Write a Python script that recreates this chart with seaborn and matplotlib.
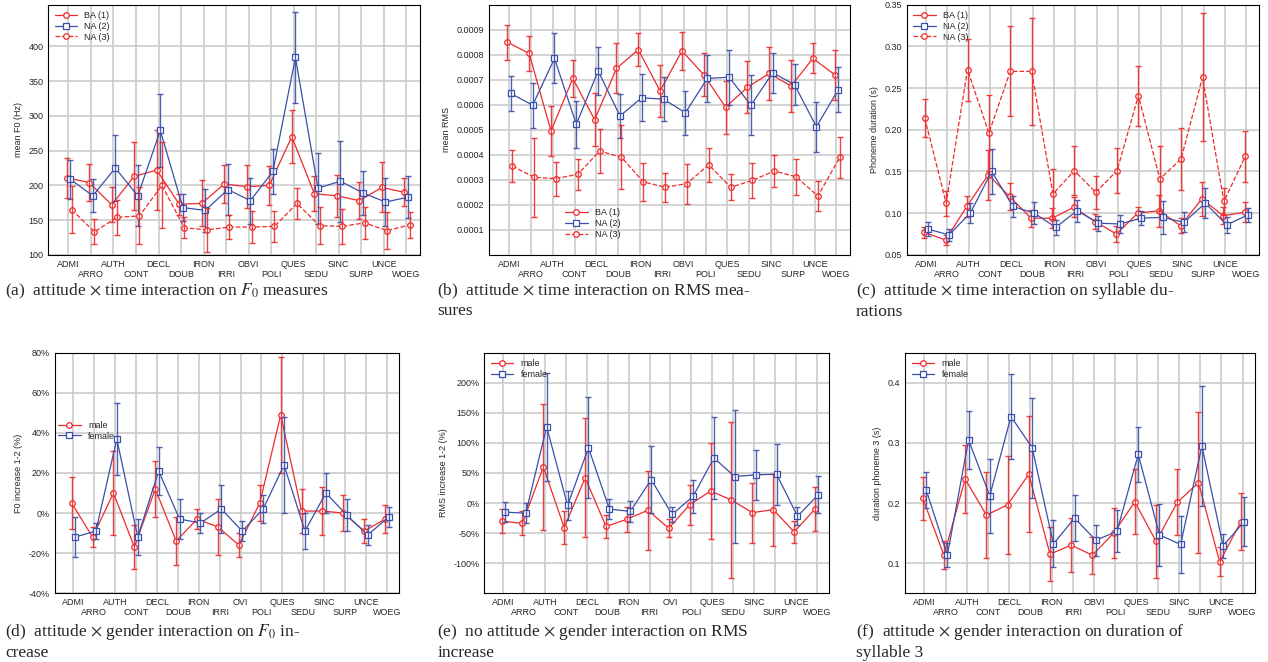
import numpy as np
import pandas as pd
import matplotlib
matplotlib.use('Agg')
import matplotlib.pyplot as plt
import matplotlib.ticker as mtick
import seaborn as sns

CATS = ['ADMI', 'ARRO', 'AUTH', 'CONT', 'DECL', 'DOUB', 'IRON', 'IRRI',
        'OBVI', 'POLI', 'QUES', 'SEDU', 'SINC', 'SURP', 'UNCE', 'WOEG']
CATS_OVI = [c if c != 'OBVI' else 'OVI' for c in CATS]

# (a) mean F0
A_BA1 = [211, 204, 172, 213, 222, 173, 174, 202, 198, 200, 270, 188, 185, 178, 197, 190]
A_BA1_E = [29, 27, 25, 49, 57, 15, 33, 27, 31, 28, 38, 25, 30, 27, 36, 20]
A_NA2 = [209, 185, 225, 185, 279, 168, 164, 194, 178, 220, 384, 196, 206, 189, 176, 183]
A_NA2_E = [28, 24, 47, 44, 53, 19, 31, 37, 33, 32, 65, 51, 58, 31, 34, 30]
A_NA3 = [165, 133, 154, 156, 200, 139, 136, 140, 140, 141, 174, 142, 141, 146, 135, 143]
A_NA3_E = [34, 18, 25, 41, 62, 15, 32, 17, 23, 22, 22, 27, 25, 23, 27, 19]

# (b) mean RMS (x1e-4)
B_BA1 = [8.5, 8.05, 4.95, 7.05, 5.4, 7.45, 8.2, 6.55, 8.15, 7.2, 5.9, 6.7, 7.25, 6.75, 7.85, 7.2]
B_BA1_E = [.7, .7, 1.0, .75, 1.05, 1.0, .65, 1.05, .75, .85, 1.05, 1.05, 1.05, 1.05, .6, 1.0]
B_NA2 = [6.45, 5.98, 7.85, 5.22, 7.35, 5.55, 6.28, 6.22, 5.68, 7.05, 7.1, 5.98, 7.28, 6.8, 5.12, 6.6]
B_NA2_E = [.7, .9, 1.0, .93, .95, .88, .93, .88, .88, .95, 1.1, 1.2, .8, .82, 1.0, .9]
B_NA3 = [3.55, 3.1, 3.05, 3.22, 4.15, 3.9, 2.92, 2.7, 2.85, 3.6, 2.7, 2.98, 3.35, 3.12, 2.35, 3.9]
B_NA3_E = [.63, 1.58, .68, .63, .87, 1.28, .75, .57, .8, .67, .52, .7, .65, .72, .6, .82]

# (c) phoneme duration
C_BA1 = [.077, .068, .108, .146, .12, .094, .094, .107, .09, .075, .10, .103, .085, .117, .097, .101]
C_BA1_E = [.007, .006, .012, .03, .016, .01, .012, .012, .009, .01, .007, .019, .009, .02, .01, .012]
C_NA2 = [.081, .074, .100, .150, .108, .100, .083, .103, .088, .087, .094, .095, .089, .112, .086, .098]
C_NA2_E = [.008, .007, .012, .027, .013, .013, .009, .013, .009, .011, .008, .02, .012, .018, .01, .008]
C_NA3 = [.214, .112, .272, .196, .270, .270, .123, .151, .125, .151, .241, .141, .165, .263, .114, .168]
C_NA3_E = [.023, .015, .037, .046, .054, .064, .03, .029, .02, .027, .036, .039, .037, .077, .016, .031]

# (d) F0 increase (%)
D_M = [5, -12, 10, -17, 12, -14, -3, -7, -16, 5, 49, 1, 1, 0, -9, -3]
D_M_E = [13, 5, 21, 11, 14, 12, 5, 14, 6, 9, 29, 11, 12, 9, 6, 7]
D_F = [-12, -9, 37, -12, 21, -3, -5, 2, -9, 2, 24, -9, 10, -1, -11, -2]
D_F_E = [10, 4, 18, 9, 12, 10, 5, 12, 5, 7, 24, 9, 10, 8, 5, 5]

# (e) RMS increase (%)
E_M = [-30, -34, 60, -41, 42, -39, -27, -12, -42, -3, 20, 5, -16, -11, -48, -10]
E_M_E = [20, 20, 105, 27, 99, 19, 21, 66, 15, 33, 80, 130, 50, 60, 18, 37]
E_F = [-15, -17, 127, -4, 92, -10, -14, 39, -19, 11, 75, 44, 47, 48, -22, 14]
E_F_E = [17, 17, 90, 24, 84, 16, 17, 56, 13, 28, 68, 111, 42, 51, 15, 31]

# (f) duration phoneme 3
F_M = [.208, .113, .240, .180, .197, .248, .115, .130, .113, .150, .202, .136, .201, .234, .102, .169]
F_M_E = [.036, .023, .057, .072, .082, .097, .045, .045, .031, .041, .054, .06, .055, .117, .024, .048]
F_F = [.222, .113, .305, .212, .344, .292, .132, .175, .138, .153, .281, .147, .131, .295, .129, .169]
F_F_E = [.03, .02, .048, .062, .07, .083, .039, .038, .026, .035, .046, .051, .047, .1, .02, .041]

sns.set_style('white')
plt.rcParams['font.family'] = ['Liberation Sans', 'DejaVu Sans']
plt.rcParams['mathtext.fontset'] = 'stix'

RED = '#ee2a2a'
BLUE = '#3a4fa8'
fig = plt.figure(figsize=(12.68, 6.62), dpi=100)


def panel(rect, cats, series, ylim, yticks, ylabel, legend_loc, fmt=None):
    ax = fig.add_axes(rect)
    x = np.arange(len(cats))
    for label, vals, errs, color, marker, ls, off in series:
        xs = x + off
        df = pd.DataFrame({'x': xs, 'y': vals})
        sns.lineplot(data=df, x='x', y='y', ax=ax, color=color, linestyle=ls,
                     linewidth=0.9, marker=marker, markersize=4 if marker == 'o' else 4.5,
                     markerfacecolor='white', markeredgecolor=color, markeredgewidth=0.9,
                     label=label, sort=False)
        ax.errorbar(xs, vals, yerr=errs, fmt='none', ecolor=color, elinewidth=1.0,
                    capsize=2, capthick=1.0, alpha=0.9)
    ax.set_xlim(-0.9, len(cats) - 0.4)
    ax.set_ylim(*ylim)
    ax.set_yticks(yticks)
    if fmt:
        ax.yaxis.set_major_formatter(fmt)
    # even categories on the first row, odd ones on a second row
    ax.set_xticks(x[::2])
    ax.set_xticklabels(cats[::2])
    ax.set_xticks(x[1::2], minor=True)
    ax.set_xticklabels(cats[1::2], minor=True)
    ax.tick_params(axis='x', which='minor', pad=11, labelsize=6.5, length=0)
    ax.tick_params(labelsize=6.5, length=0)
    ax.set_xlabel('')
    ax.set_ylabel(ylabel, fontsize=6.5)
    ax.grid(True, which='both', axis='x', color='#cccccc', linewidth=1.2)
    ax.grid(True, which='major', axis='y', color='#cccccc', linewidth=1.2)
    ax.set_axisbelow(True)
    for s in ax.spines.values():
        s.set_color('black')
        s.set_linewidth(0.8)
    ax.legend(loc=legend_loc, fontsize=6.5, frameon=False, handlelength=2.5,
              borderaxespad=0.3, labelspacing=0.2)
    return ax


TOP_H = 0.378
BOT_H = 0.363
panel([0.038, 0.615, 0.293, TOP_H], CATS,
      [('BA (1)', A_BA1, A_BA1_E, RED, 'o', '-', -0.08),
       ('NA (2)', A_NA2, A_NA2_E, BLUE, 's', '-', 0.08),
       ('NA (3)', A_NA3, A_NA3_E, RED, 'o', '--', 0.15)],
      (100, 460), [100, 150, 200, 250, 300, 350, 400], 'mean F0 (Hz)', 'upper left')

panel([0.386, 0.615, 0.284, TOP_H], CATS,
      [('BA (1)', B_BA1, B_BA1_E, RED, 'o', '-', -0.08),
       ('NA (2)', B_NA2, B_NA2_E, BLUE, 's', '-', 0.08),
       ('NA (3)', B_NA3, B_NA3_E, RED, 'o', '--', 0.15)],
      (0, 10), [1, 2, 3, 4, 5, 6, 7, 8, 9], 'mean RMS', (0.2, 0.05),
      fmt=mtick.FuncFormatter(lambda v, p: f'{v * 1e-4:.4f}'))

panel([0.715, 0.615, 0.278, TOP_H], CATS,
      [('BA (1)', C_BA1, C_BA1_E, RED, 'o', '-', -0.08),
       ('NA (2)', C_NA2, C_NA2_E, BLUE, 's', '-', 0.08),
       ('NA (3)', C_NA3, C_NA3_E, RED, 'o', '--', -0.05)],
      (0.05, 0.35), [0.05, 0.10, 0.15, 0.20, 0.25, 0.30, 0.35], 'Phoneme duration (s)', 'upper left',
      fmt=mtick.FormatStrFormatter('%.2f'))

panel([0.043, 0.104, 0.272, BOT_H], CATS_OVI,
      [('male', D_M, D_M_E, RED, 'o', '-', -0.08),
       ('female', D_F, D_F_E, BLUE, 's', '-', 0.08)],
      (-40, 80), [-40, -20, 0, 20, 40, 60, 80], 'F0 increase 1-2 (%)', (0.0, 0.62),
      fmt=mtick.FuncFormatter(lambda v, p: f'{v:.0f}%'))

panel([0.382, 0.104, 0.272, BOT_H], CATS_OVI,
      [('male', E_M, E_M_E, RED, 'o', '-', -0.08),
       ('female', E_F, E_F_E, BLUE, 's', '-', 0.08)],
      (-150, 250), [-100, -50, 0, 50, 100, 150, 200], 'RMS increase 1-2 (%)', 'upper left',
      fmt=mtick.FuncFormatter(lambda v, p: f'{v:.0f}%'))

panel([0.714, 0.104, 0.276, BOT_H], CATS,
      [('male', F_M, F_M_E, RED, 'o', '-', -0.08),
       ('female', F_F, F_F_E, BLUE, 's', '-', 0.08)],
      (0.05, 0.45), [0.1, 0.2, 0.3, 0.4], 'duration phoneme 3 (s)', 'upper left')

cap = dict(fontsize=12.5, family=['Liberation Serif', 'DejaVu Serif'], va='top', ha='left')
fig.text(0.004, 0.575, r'(a)  attitude $\times$ time interaction on $F_0$ measures', **cap)
fig.text(0.345, 0.575, r'(b)  attitude $\times$ time interaction on RMS mea-' + '\nsures', **cap)
fig.text(0.675, 0.575, r'(c)  attitude $\times$ time interaction on syllable du-' + '\nrations', **cap)
fig.text(0.004, 0.06, r'(d)  attitude $\times$ gender interaction on $F_0$ in-' + '\ncrease', **cap)
fig.text(0.345, 0.06, r'(e)  no attitude $\times$ gender interaction on RMS' + '\nincrease', **cap)
fig.text(0.675, 0.06, r'(f)  attitude $\times$ gender interaction on duration of' + '\nsyllable 3', **cap)

fig.savefig('out.png', dpi=100)
